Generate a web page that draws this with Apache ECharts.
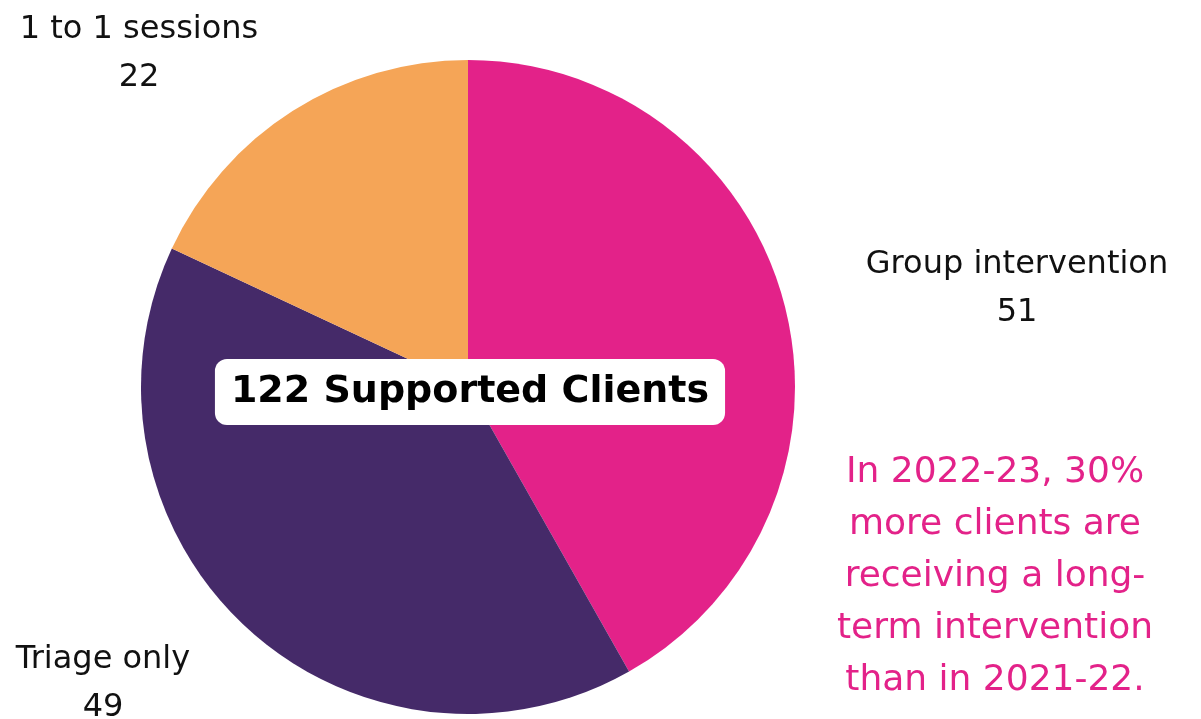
<!DOCTYPE html>
<html>
<head>
<meta charset="utf-8">
<script src="https://cdn.jsdelivr.net/npm/echarts@6/dist/echarts.min.js"></script>
<style>
  html, body { margin: 0; padding: 0; background: #fff; }
  #pie-chart { width: 1201px; height: 719px; }
</style>
</head>
<body>
<div id="pie-chart"></div>
<script>
var categories = ["Group intervention", "Triage only", "1 to 1 sessions"];
var values = [51, 49, 22];
var colors = ["#e32289", "#452a69", "#f5a557"];
var noteLines = [
  "In 2022-23, 30%",
  "more clients are",
  "receiving a long-",
  "term intervention",
  "than in 2021-22."
];

// label anchors (centre of the two-line label)
var labelSpots = [[1017, 289], [103, 684], [139, 54]];

function renderPie() {
  var chartDom = document.getElementById("pie-chart");
  var myChart = echarts.init(chartDom);
  var option;
  var total = values.reduce(function (a, b) { return a + b; }, 0);
  var fontFamily = "DejaVu Sans";

  var data = categories.map(function (name, i) {
    return { name: name, value: values[i], itemStyle: { color: colors[i] } };
  });

  option = {
    animation: false,
    series: [
      {
        type: "pie",
        radius: 327,
        center: [468, 387],
        startAngle: 90,
        clockwise: true,
        label: {
          show: true,
          formatter: "{b}\n{c}",
          color: "#111",
          fontSize: 32,
          fontFamily: fontFamily,
          lineHeight: 48,
          align: "center",
        },
        labelLine: { show: false },
        labelLayout: function (params) {
          var p = labelSpots[params.dataIndex];
          return { x: p[0], y: p[1], align: "center", verticalAlign: "middle" };
        },
        data: data,
      },
    ],
    graphic: [
      {
        type: "text",
        z: 100,
        x: 470,
        y: 392,
        style: {
          text: total + " Supported Clients",
          fill: "#000",
          font: "bold 38px " + fontFamily,
          align: "center",
          verticalAlign: "middle",
          backgroundColor: "#fff",
          borderRadius: 12,
          padding: [14, 16, 14, 16],
        },
      },
      {
        type: "text",
        z: 100,
        x: 995,
        y: 577,
        style: {
          text: noteLines.join("\n"),
          fill: "#e32289",
          font: "36px " + fontFamily,
          lineHeight: 52,
          align: "center",
          verticalAlign: "middle",
        },
      },
    ],
  };

  option && myChart.setOption(option);
}
renderPie();
</script>
</body>
</html>
